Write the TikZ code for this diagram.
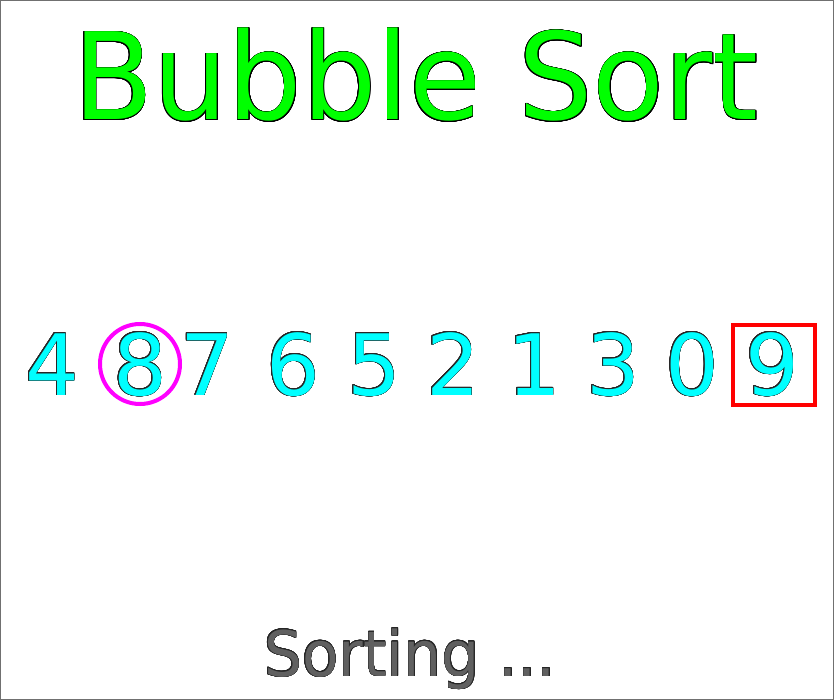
\documentclass[tikz,border=0pt]{standalone}
\usepackage{fontspec}
\setmainfont{DejaVu Sans}
\usepackage{graphicx}
\usepackage{contour}
\contournumber{24}
\definecolor{titlegreen}{HTML}{00FF00}
\definecolor{digitcyan}{HTML}{00FFFF}
\definecolor{statusgray}{HTML}{606060}
\definecolor{framegray}{HTML}{707070}
\definecolor{digitedge}{HTML}{262626}
\definecolor{marker}{HTML}{FF00FF}
\definecolor{boxred}{HTML}{FF0000}
\newcommand\bigdigit[1]{\contourlength{0.55pt}\contour{digitedge}{\textcolor{digitcyan}{#1}}}
\tikzset{
  digit/.style={anchor=base, inner sep=0pt, font=\fontsize{85}{85}\selectfont},
  titletext/.style={anchor=base, inner sep=0pt, font=\fontsize{121}{121}\selectfont},
  statustext/.style={anchor=base, inner sep=0pt, font=\fontsize{63}{63}\selectfont},
  frame/.style={draw=framegray, line width=1.2bp},
  current/.style={draw=marker, line width=4bp},
  sorted/.style={draw=boxred, line width=4.5bp}
}
\begin{document}
\begin{tikzpicture}[x=1bp,y=-1bp]
\useasboundingbox (0,0) rectangle (834,700);
\draw[frame] (0.6,0.6) rectangle (833.4,699.4);
\node[titletext] (title) at (416,120) {\scalebox{0.972}[1]{\contourlength{0.7pt}\contour{black}{\textcolor{titlegreen}{Bubble Sort}}}};
\node[digit] (d0) at (52,395) {\bigdigit{4}};
\node[digit] (d1) at (140,395) {\bigdigit{8}};
\node[digit] (d2) at (207,395) {\bigdigit{7}};
\node[digit] (d3) at (293,395) {\bigdigit{6}};
\node[digit] (d4) at (374,395) {\bigdigit{5}};
\node[digit] (d5) at (453,395) {\bigdigit{2}};
\node[digit] (d6) at (534,395) {\bigdigit{1}};
\node[digit] (d7) at (613,395) {\bigdigit{3}};
\node[digit] (d8) at (692,395) {\bigdigit{0}};
\node[digit] (d9) at (772,395) {\bigdigit{9}};
\draw[current] (140,364) circle[radius=40];
\draw[sorted] (733,325) rectangle (815,405);
\node[statustext] (status) at (410,676) {\scalebox{0.955}[1]{\contourlength{0.5pt}\contour{digitedge}{\textcolor{statusgray}{Sorting ...}}}};
\end{tikzpicture}
\end{document}
